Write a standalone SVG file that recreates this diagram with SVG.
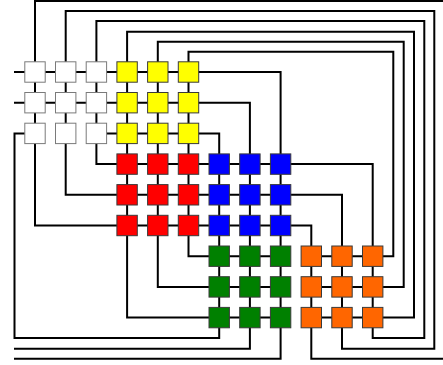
<svg xmlns="http://www.w3.org/2000/svg" width="443" height="365" viewBox="0 0 443 365">
<style>
.w{fill:none;stroke:#000;stroke-width:2;stroke-linejoin:miter}
.n rect{stroke-width:1.5}
.wh{fill:#fff;stroke:#7a7a7a}
.ye{fill:#ffff00;stroke:#3a3a3a}
.re{fill:#ff0000;stroke:#3a3a3a}
.bl{fill:#0000ff;stroke:#3a3a3a}
.gr{fill:#008000;stroke:#3a3a3a}
.or{fill:#ff6600;stroke:#3a3a3a}
</style>
<defs>
<rect id="b" width="20.4" height="20.4"/>
</defs>
<rect x="0" y="0" width="443" height="365" fill="#fff"/>
<g id="connectors" class="w">
<path d="M14 72 H280.6 V164.1"/>
<path d="M14 102.7 H249.9 V164.1"/>
<path d="M96.4 133.4 H219.2 V164.1"/>
<path d="M35 133.4 H14.5 V338 H219.2 V317.6"/>
<path d="M96.4 133.4 V164.1 H372.7 V256.2"/>
<path d="M65.7 133.4 V194.8 H342 V256.2"/>
<path d="M35 133.4 V225.5 H311.3 V256.2"/>
<path d="M188.5 225.5 V256.2 H280.6"/>
<path d="M311.3 256.2 H393.3 V51.7 H188.5 V72"/>
<path d="M157.8 225.5 V286.9 H280.6"/>
<path d="M311.3 286.9 H403.7 V41.7 H157.8 V72"/>
<path d="M127.1 225.5 V317.6 H280.6"/>
<path d="M311.3 317.6 H414 V31.7 H127.1 V72"/>
<path d="M443 1 H35 V133.4"/>
<path d="M65.7 133.4 V11 H434.3 V348.7 H342 V256.2"/>
<path d="M96.4 133.4 V21 H424.3 V338 H372.7 V256.2"/>
<path d="M127.1 72 V225.5"/>
<path d="M157.8 72 V225.5"/>
<path d="M188.5 72 V225.5"/>
<path d="M219.2 164.1 V317.6"/>
<path d="M249.9 164.1 V348.7 H14"/>
<path d="M280.6 164.1 V358.7 H14"/>
<path d="M311.3 256.2 V358.7 H443"/>
</g>
<g class="n">
<g id="n0_0"><use href="#b" class="wh" x="24.8" y="61.8"/></g>
<g id="n0_1"><use href="#b" class="wh" x="55.5" y="61.8"/></g>
<g id="n0_2"><use href="#b" class="wh" x="86.2" y="61.8"/></g>
<g id="n1_0"><use href="#b" class="wh" x="24.8" y="92.5"/></g>
<g id="n1_1"><use href="#b" class="wh" x="55.5" y="92.5"/></g>
<g id="n1_2"><use href="#b" class="wh" x="86.2" y="92.5"/></g>
<g id="n2_0"><use href="#b" class="wh" x="24.8" y="123.2"/></g>
<g id="n2_1"><use href="#b" class="wh" x="55.5" y="123.2"/></g>
<g id="n2_2"><use href="#b" class="wh" x="86.2" y="123.2"/></g>
<g id="n0_3"><use href="#b" class="ye" x="116.9" y="61.8"/></g>
<g id="n0_4"><use href="#b" class="ye" x="147.6" y="61.8"/></g>
<g id="n0_5"><use href="#b" class="ye" x="178.3" y="61.8"/></g>
<g id="n1_3"><use href="#b" class="ye" x="116.9" y="92.5"/></g>
<g id="n1_4"><use href="#b" class="ye" x="147.6" y="92.5"/></g>
<g id="n1_5"><use href="#b" class="ye" x="178.3" y="92.5"/></g>
<g id="n2_3"><use href="#b" class="ye" x="116.9" y="123.2"/></g>
<g id="n2_4"><use href="#b" class="ye" x="147.6" y="123.2"/></g>
<g id="n2_5"><use href="#b" class="ye" x="178.3" y="123.2"/></g>
<g id="n3_3"><use href="#b" class="re" x="116.9" y="153.9"/></g>
<g id="n3_4"><use href="#b" class="re" x="147.6" y="153.9"/></g>
<g id="n3_5"><use href="#b" class="re" x="178.3" y="153.9"/></g>
<g id="n4_3"><use href="#b" class="re" x="116.9" y="184.6"/></g>
<g id="n4_4"><use href="#b" class="re" x="147.6" y="184.6"/></g>
<g id="n4_5"><use href="#b" class="re" x="178.3" y="184.6"/></g>
<g id="n5_3"><use href="#b" class="re" x="116.9" y="215.3"/></g>
<g id="n5_4"><use href="#b" class="re" x="147.6" y="215.3"/></g>
<g id="n5_5"><use href="#b" class="re" x="178.3" y="215.3"/></g>
<g id="n3_6"><use href="#b" class="bl" x="209" y="153.9"/></g>
<g id="n3_7"><use href="#b" class="bl" x="239.7" y="153.9"/></g>
<g id="n3_8"><use href="#b" class="bl" x="270.4" y="153.9"/></g>
<g id="n4_6"><use href="#b" class="bl" x="209" y="184.6"/></g>
<g id="n4_7"><use href="#b" class="bl" x="239.7" y="184.6"/></g>
<g id="n4_8"><use href="#b" class="bl" x="270.4" y="184.6"/></g>
<g id="n5_6"><use href="#b" class="bl" x="209" y="215.3"/></g>
<g id="n5_7"><use href="#b" class="bl" x="239.7" y="215.3"/></g>
<g id="n5_8"><use href="#b" class="bl" x="270.4" y="215.3"/></g>
<g id="n6_6"><use href="#b" class="gr" x="209" y="246"/></g>
<g id="n6_7"><use href="#b" class="gr" x="239.7" y="246"/></g>
<g id="n6_8"><use href="#b" class="gr" x="270.4" y="246"/></g>
<g id="n7_6"><use href="#b" class="gr" x="209" y="276.7"/></g>
<g id="n7_7"><use href="#b" class="gr" x="239.7" y="276.7"/></g>
<g id="n7_8"><use href="#b" class="gr" x="270.4" y="276.7"/></g>
<g id="n8_6"><use href="#b" class="gr" x="209" y="307.4"/></g>
<g id="n8_7"><use href="#b" class="gr" x="239.7" y="307.4"/></g>
<g id="n8_8"><use href="#b" class="gr" x="270.4" y="307.4"/></g>
<g id="n6_9"><use href="#b" class="or" x="301.1" y="246"/></g>
<g id="n6_10"><use href="#b" class="or" x="331.8" y="246"/></g>
<g id="n6_11"><use href="#b" class="or" x="362.5" y="246"/></g>
<g id="n7_9"><use href="#b" class="or" x="301.1" y="276.7"/></g>
<g id="n7_10"><use href="#b" class="or" x="331.8" y="276.7"/></g>
<g id="n7_11"><use href="#b" class="or" x="362.5" y="276.7"/></g>
<g id="n8_9"><use href="#b" class="or" x="301.1" y="307.4"/></g>
<g id="n8_10"><use href="#b" class="or" x="331.8" y="307.4"/></g>
<g id="n8_11"><use href="#b" class="or" x="362.5" y="307.4"/></g>
</g>
</svg>
